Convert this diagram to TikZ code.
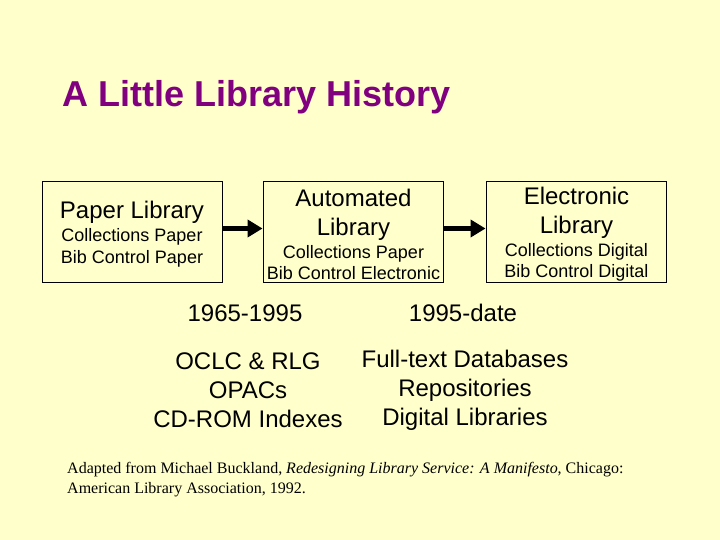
\documentclass[tikz,border=0pt]{standalone}
\usepackage{fontspec}
\setmainfont{Liberation Sans}
\newfontfamily\citefont{Liberation Serif}
\usetikzlibrary{arrows.meta}
\definecolor{bgyellow}{HTML}{FFFFCC}
\definecolor{titlepurple}{HTML}{800080}
\tikzset{
  libbox/.style={draw=black, line width=0.9pt, fill=bgyellow, minimum width=180pt, minimum height=101pt, align=center, inner sep=0pt, font=\fontsize{18}{22}\selectfont},
  flowarrow/.style={line width=5pt, -{Triangle[length=15pt,width=17pt]}, shorten >=0.5pt},
  plaintext/.style={align=center, inner sep=0pt, font=\fontsize{24}{29}\selectfont}
}
\newcommand{\bigsz}{\fontsize{24}{29}\selectfont}
\newcommand{\subsz}{\fontsize{18}{22}\selectfont}
\newcommand{\topstrut}{\rule{0pt}{22.5pt}}
\begin{document}
\begin{tikzpicture}[x=1pt,y=-1pt]
\fill[bgyellow] (0,0) rectangle (720,540);
\useasboundingbox (0,0) rectangle (720,540);
\node[anchor=base west, inner sep=0pt, text=titlepurple, font=\fontsize{36}{43}\selectfont\bfseries] (title) at (62,107) {A Little Library History};
\node[libbox] (paper) at (132,231.5) {\topstrut\bigsz Paper Library\\[1pt]\subsz Collections Paper\\\subsz Bib Control Paper};
\node[libbox] (auto) at (353.5,231.5) {\topstrut\bigsz Automated\\[7pt]\bigsz Library\\[1pt]\subsz Collections Paper\\[-1pt]\subsz Bib Control Electronic};
\node[libbox] (elec) at (576.5,231.5) {\topstrut\bigsz Electronic\\[7pt]\bigsz Library\\[1pt]\subsz Collections Digital\\[-1pt]\subsz Bib Control Digital};
\draw[flowarrow] ([yshift=3pt]paper.east) -- ([yshift=3pt]auto.west);
\draw[flowarrow] ([yshift=3pt]auto.east) -- ([yshift=3pt]elec.west);
\node[anchor=base, plaintext] (era1) at (245,321) {1965-1995};
\node[anchor=base, plaintext] (era2) at (463,321) {1995-date};
\node[plaintext] (tools1) at (248,390.5) {OCLC \& RLG\\OPACs\\CD-ROM Indexes};
\node[plaintext] (tools2) at (465,390.5) {Full-text Databases\\Repositories\\Digital Libraries};
\node[anchor=north west, align=left, inner sep=0pt, font=\citefont\fontsize{16}{20}\selectfont] (cite) at (67,462) {Adapted from Michael Buckland, \textit{Redesigning Library Service: A Manifesto}, Chicago:\\American Library Association, 1992.};
\end{tikzpicture}
\end{document}
